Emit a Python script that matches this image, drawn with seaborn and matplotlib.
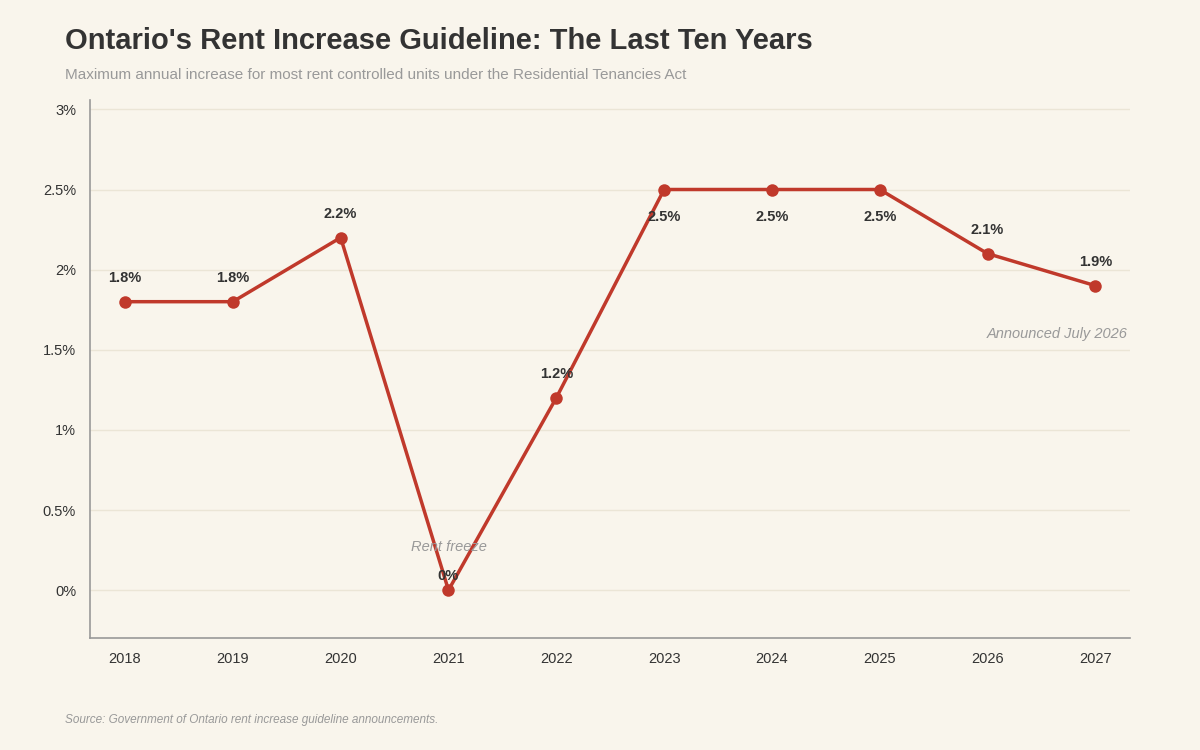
import matplotlib
matplotlib.use("Agg")
import matplotlib.pyplot as plt
import seaborn as sns
import pandas as pd

years = [2018, 2019, 2020, 2021, 2022, 2023, 2024, 2025, 2026, 2027]
rates = [1.8, 1.8, 2.2, 0.0, 1.2, 2.5, 2.5, 2.5, 2.1, 1.9]
below = [2023, 2024, 2025]
yticks = [0, 0.5, 1, 1.5, 2, 2.5, 3]
ytick_labels = ["0%", "0.5%", "1%", "1.5%", "2%", "2.5%", "3%"]

bg = "#f9f5ec"
red = "#c0392b"

sns.set_style("white")
plt.rcParams["font.family"] = ["Liberation Sans", "DejaVu Sans"]

df = pd.DataFrame({"year": years, "rate": rates})
fig = plt.figure(figsize=(12, 7.5), dpi=100, facecolor=bg)
ax = fig.add_axes([0.075, 0.149, 0.867, 0.718], facecolor=bg)

for y in yticks:
    ax.axhline(y, color="#ebe5d6", lw=1, zorder=0)

sns.lineplot(data=df, x="year", y="rate", ax=ax, color=red, lw=2.5,
             marker="o", markersize=9, markeredgewidth=0, zorder=3)

for yr, r in zip(years, rates):
    if yr in below:
        ax.annotate(f"{r:g}%", (yr, r), xytext=(0, -25), textcoords="offset points",
                    ha="center", va="bottom", fontsize=10.5, fontweight="bold", color="#333333")
    elif r == 0:
        ax.annotate("0%", (yr, r), xytext=(0, 5), textcoords="offset points",
                    ha="center", va="bottom", fontsize=10.5, fontweight="bold", color="#333333")
    else:
        ax.annotate(f"{r:g}%", (yr, r), xytext=(0, 12), textcoords="offset points",
                    ha="center", va="bottom", fontsize=10.5, fontweight="bold", color="#333333")

ax.text(2021, 0.27, "Rent freeze", ha="center", va="center", style="italic",
        fontsize=10.5, color="#999999")
ax.text(2027.3, 1.6, "Announced July 2026", ha="right", va="center", style="italic",
        fontsize=10.5, color="#999999")

ax.set_xlim(2017.675, 2027.325)
ax.set_ylim(-0.3, 3.06)
ax.set_xticks(years)
ax.set_xticklabels([str(y) for y in years])
ax.set_yticks(yticks)
ax.set_yticklabels(ytick_labels)
ax.tick_params(axis="both", labelsize=10.5, colors="#333333", length=0, pad=10)
ax.set_xlabel("")
ax.set_ylabel("")
for s in ["top", "right"]:
    ax.spines[s].set_visible(False)
for s in ["left", "bottom"]:
    ax.spines[s].set_color("#999999")
    ax.spines[s].set_linewidth(1.2)

fig.text(0.054, 0.945, "Ontario's Rent Increase Guideline: The Last Ten Years",
         fontsize=21, fontweight="bold", color="#333333", va="center")
fig.text(0.054, 0.9, "Maximum annual increase for most rent controlled units under the Residential Tenancies Act",
         fontsize=11, color="#999999", va="center")
fig.text(0.054, 0.04, "Source: Government of Ontario rent increase guideline announcements.",
         fontsize=8.5, style="italic", color="#999999", va="center")

fig.savefig("out.png", facecolor=bg)
